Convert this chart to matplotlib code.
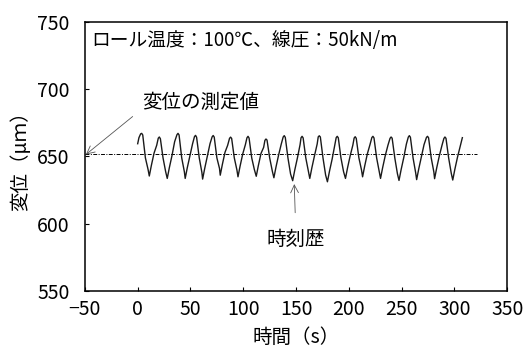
import matplotlib
matplotlib.use("Agg")
import matplotlib.pyplot as plt

plt.rcParams['font.family'] = ['Noto Sans CJK JP', 'DejaVu Sans']

# time history of displacement
time_s = [0, 1.2, 2.8, 3.8, 4.8, 7.3, 9.8,
          11, 13, 15.5, 18, 19.5, 20.5, 21.5, 24, 26.5,
          28, 30, 32.5, 35, 37.2, 38.2, 39.2, 41.7, 44.2,
          45, 47, 49.5, 52, 53.8, 54.8, 55.8, 58.3, 60.8,
          61.5, 63.5, 66, 68.5, 70.5, 71.5, 72.5, 75, 77.5,
          78.2, 80.2, 82.7, 85.2, 87, 88, 89, 91.5, 94,
          95, 97, 99.5, 102, 103.5, 104.5, 105.5, 108, 110.5,
          112.3, 114.3, 116.8, 119.3, 120.5, 121.5, 122.5, 125, 127.5,
          129, 131, 133.5, 136, 137.8, 138.8, 139.8, 142.3, 144.8,
          146.8, 148.8, 151.3, 153.8, 154.7, 155.7, 156.7, 159.2, 161.7,
          163, 165, 167.5, 170, 171, 172, 173, 175.5, 178,
          179.7, 181.7, 184.2, 186.7, 188, 189, 190, 192.5, 195,
          196.8, 198.8, 201.3, 203.8, 205, 206, 207, 209.5, 212,
          213, 215, 217.5, 220, 221.8, 222.8, 223.8, 226.3, 228.8,
          230, 232, 234.5, 237, 239, 240, 241, 243.5, 246,
          247.5, 249.5, 252, 254.5, 256.3, 257.3, 258.3, 260.8, 263.3,
          264.2, 266.2, 268.7, 271.2, 273.5, 274.5, 275.5, 278, 280.5,
          281.2, 283.2, 285.7, 288.2, 290, 291, 292, 294.5, 297,
          298.4, 300.4, 302.9, 305.4, 307.5]
displacement_um = [659.5, 664, 666.8, 667.2, 666, 649, 640.5,
                   635.5, 643.5, 652.5, 658.3, 663.6, 664.5, 663.2, 649, 638.7,
                   633.7, 641.7, 650.7, 661, 666.2, 667.2, 666, 649, 638.7,
                   633.7, 641.7, 650.7, 659.5, 664.8, 665.7, 664.3, 649, 638.2,
                   633.2, 641.2, 650.2, 659.5, 664.6, 665.6, 664.4, 649, 641.1,
                   636.1, 644.1, 653.1, 658.3, 663.5, 664.4, 663.4, 649, 639.9,
                   634.9, 642.9, 651.9, 658.8, 663.9, 665, 663.7, 649, 640.3,
                   635.3, 643.3, 652.3, 656.8, 662, 663, 662.2, 649, 639.2,
                   634.2, 642.2, 651.2, 659.3, 664.5, 665.5, 664.2, 649, 637,
                   632, 640, 649, 658.8, 663.9, 665, 663.8, 649, 638.7,
                   633.7, 641.7, 650.7, 659.3, 664.6, 665.4, 664.5, 649, 636.2,
                   631.2, 639.2, 648.2, 658.8, 664, 665, 663.9, 649, 638.7,
                   633.7, 641.7, 650.7, 658.5, 663.7, 664.7, 663.5, 649, 639.9,
                   634.9, 642.9, 651.9, 658.8, 664.1, 665, 663.8, 649, 638.7,
                   633.7, 641.7, 650.7, 658.3, 663.5, 664.5, 663.6, 649, 637.2,
                   632.2, 640.2, 649.2, 659.3, 664.4, 665.5, 664.3, 649, 637.8,
                   632.8, 640.8, 649.8, 658.8, 664.2, 665, 663.9, 649, 638.5,
                   633.5, 641.5, 650.5, 658.3, 663.4, 664.5, 663.5, 649, 637.5,
                   632.5, 640.5, 649.5, 657.5, 664]

measured_value = 651.5
measured_span = [-50, 321]

x_ticks = [-50, 0, 50, 100, 150, 200, 250, 300, 350]
y_ticks = [550, 600, 650, 700, 750]

title_text = "ロール温度：100℃、線圧：50kN/m"
label_measured = "変位の測定値"
label_history = "時刻歴"
xlabel = "時間（s）"
ylabel = "変位（μｍ）"

fig = plt.figure(figsize=(5.24, 3.47), dpi=100)
ax = fig.add_axes([0.162, 0.1614, 0.806, 0.7752])

ax.plot(measured_span, [measured_value, measured_value], color='black',
        lw=0.7, linestyle=(0, (4, 1.5, 1, 1.5)))
ax.plot(time_s, displacement_um, color='#1a1a1a', lw=1.0)

ax.set_xlim(-50, 350)
ax.set_ylim(550, 750)
ax.set_xticks(x_ticks)
ax.set_yticks(y_ticks)
ax.set_xticklabels([f"{v}".replace("-", "\u2212") for v in x_ticks])
ax.tick_params(direction='in', length=3, width=0.8, labelsize=14)
ax.tick_params(axis='y', pad=11)
ax.tick_params(axis='x', pad=6)
for s in ax.spines.values():
    s.set_linewidth(1.1)

ax.text(-44, 736, title_text, fontsize=13.5, va='center', ha='left')

ax.annotate(label_measured, xy=(-49, measured_value), xytext=(4, 690),
            fontsize=14, va='center', ha='left',
            arrowprops=dict(arrowstyle='->', color='#555555', lw=0.6,
                            shrinkA=6, shrinkB=0, relpos=(0, 0.2)))
ax.annotate(label_history, xy=(148.3, 629.5), xytext=(150, 588),
            fontsize=14, va='center', ha='center',
            arrowprops=dict(arrowstyle='->', color='#555555', lw=0.6,
                            shrinkA=10, shrinkB=0))

ax.set_xlabel(xlabel, fontsize=14, labelpad=5)
ax.set_ylabel(ylabel, fontsize=14, labelpad=4)

fig.savefig("out.png", dpi=100)
